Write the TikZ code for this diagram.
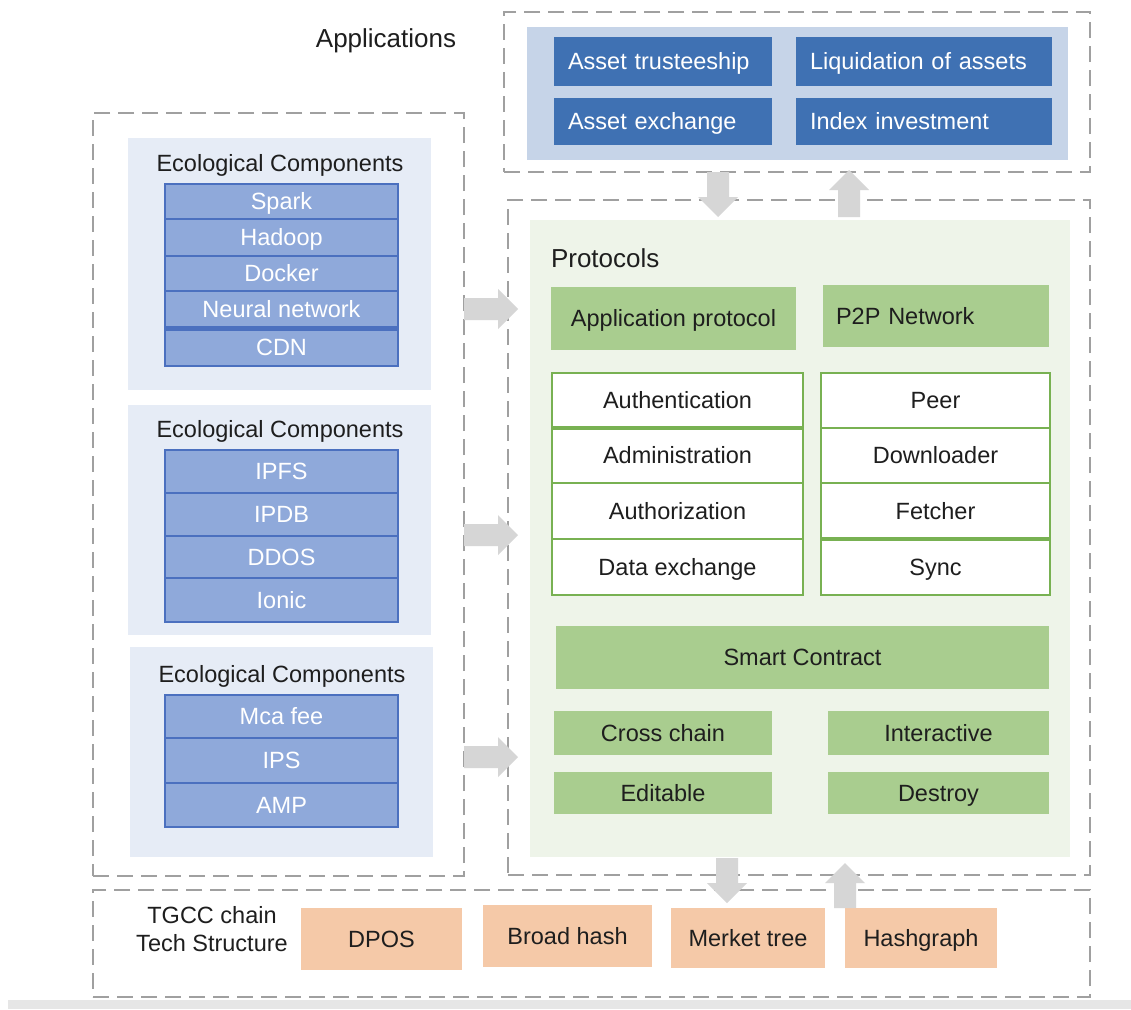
\documentclass[tikz,border=0pt]{standalone}
\usepackage{fontspec}
\setmainfont{Liberation Sans}
\usetikzlibrary{calc}

\definecolor{dashgray}{HTML}{A0A0A0}
\definecolor{appbg}{HTML}{C6D4E8}
\definecolor{appblue}{HTML}{3F71B3}
\definecolor{ecobg}{HTML}{E6ECF6}
\definecolor{stackfill}{HTML}{8FA9DA}
\definecolor{stackline}{HTML}{4B70BF}
\definecolor{protobg}{HTML}{EEF4E9}
\definecolor{greenbox}{HTML}{A9CD8F}
\definecolor{tableline}{HTML}{78B152}
\definecolor{peach}{HTML}{F5C9A8}
\definecolor{arrowgray}{HTML}{D6D6D6}
\definecolor{stripgray}{HTML}{E6E6E6}
\definecolor{ink}{HTML}{1E1E1E}

\newcommand\bodyfont{\fontsize{23.5}{28}\selectfont}
\newcommand\headfont{\fontsize{26}{30}\selectfont}

% rectangle node given by its corners: style, name, x1, y1, x2, y2, text
\newcommand\cellbox[7]{%
  \pgfmathsetmacro\cellw{#5-#3}%
  \pgfmathsetmacro\cellh{#6-#4}%
  \node[#1, anchor=north west, minimum width=\cellw pt, minimum height=\cellh pt] (#2) at (#3,#4) {#7};}

% broad grey block arrow between two named points
\newcommand\fatarrow[2]{%
  \fill[arrowgray] let \p1=(#1), \p2=(#2),
    \n1={veclen(\x2-\x1,\y2-\y1)}, \n2={atan2(\y2-\y1,\x2-\x1)} in
    [shift={(\p1)}, rotate=\n2]
    (0pt,11pt) -- ({\n1*1pt-20pt},11pt) -- ({\n1*1pt-20pt},20pt) -- ({\n1*1pt},0pt)
    -- ({\n1*1pt-20pt},-20pt) -- ({\n1*1pt-20pt},-11pt) -- (0pt,-11pt) -- cycle;}

\begin{document}
\begin{tikzpicture}[x=1pt,y=-1pt,
  every node/.style={inner sep=0pt, outer sep=0pt},
  dashframe/.style={draw=dashgray, line width=2pt, dash pattern=on 16pt off 8pt},
  plain/.style={fill=#1, draw=none},
  txt/.style={font=\bodyfont, text=ink, text height=16.5pt, text depth=0pt},
  appitem/.style={fill=appblue, font=\bodyfont, text=white, text height=16.5pt, text depth=0pt, align=left},
  stackrow/.style={fill=stackfill, draw=stackline, line width=2pt, font=\bodyfont, text=white, text height=16.5pt, text depth=0pt},
  tablerow/.style={fill=white, draw=tableline, line width=2pt, txt},
  greenitem/.style={fill=greenbox, txt},
  chainitem/.style={fill=peach, txt},
  title/.style={font=\bodyfont, text=ink, anchor=base},
  heading/.style={font=\headfont, text=ink, anchor=base}]

\useasboundingbox (0,0) rectangle (1131,1009);
\fill[white] (0,0) rectangle (1131,1009);
\fill[stripgray] (8,1000) rectangle (1131,1009);

% dashed frames
\cellbox{dashframe}{appframe}{504}{12}{1090}{172}{}
\cellbox{dashframe}{ecoframe}{93}{113}{464}{876}{}
\cellbox{dashframe}{protoframe}{508}{200}{1090}{875}{}
\cellbox{dashframe}{chainframe}{93}{890}{1090}{997}{}

% applications
\node[heading] (apptitle) at (386,47) {Applications};
\cellbox{plain=appbg}{apppanel}{527}{27}{1068}{160}{}
\cellbox{appitem, text width=190pt}{trustee}{554}{37}{772}{86}{Asset trusteeship}
\cellbox{appitem, text width=228pt}{liquid}{796}{37}{1052}{86}{Liquidation of assets}
\cellbox{appitem, text width=190pt}{aexch}{554}{98}{772}{145}{Asset exchange}
\cellbox{appitem, text width=228pt}{index}{796}{98}{1052}{145}{Index investment}

% ecological components, first group
\cellbox{plain=ecobg}{ecoA}{128}{138}{431}{390}{}
\node[title] (ecoAt) at (280,171) {Ecological Components};
\cellbox{stackrow}{spark}{165}{184}{398}{219}{Spark}
\cellbox{stackrow}{hadoop}{165}{219}{398}{256}{Hadoop}
\cellbox{stackrow}{docker}{165}{256}{398}{291}{Docker}
\cellbox{stackrow}{neural}{165}{291}{398}{328}{Neural network}
\cellbox{stackrow}{cdn}{165}{328}{398}{366}{CDN}
\draw[stackline, line width=5pt] (neural.south west) -- (neural.south east);

% second group
\cellbox{plain=ecobg}{ecoB}{128}{405}{431}{635}{}
\node[title] (ecoBt) at (280,437) {Ecological Components};
\cellbox{stackrow}{ipfs}{165}{450}{398}{493}{IPFS}
\cellbox{stackrow}{ipdb}{165}{493}{398}{536}{IPDB}
\cellbox{stackrow}{ddos}{165}{536}{398}{578}{DDOS}
\cellbox{stackrow}{ionic}{165}{578}{398}{622}{Ionic}

% third group
\cellbox{plain=ecobg}{ecoC}{130}{647}{433}{857}{}
\node[title] (ecoCt) at (282,682) {Ecological Components};
\cellbox{stackrow}{mca}{165}{695}{398}{738}{Mca fee}
\cellbox{stackrow}{ips}{165}{738}{398}{783}{IPS}
\cellbox{stackrow}{amp}{165}{783}{398}{827}{AMP}

% protocols
\cellbox{plain=protobg}{protopanel}{530}{220}{1070}{857}{}
\node[heading, anchor=base west] (prototitle) at (551,267) {Protocols};
\cellbox{greenitem}{approto}{551}{287}{796}{350}{Application protocol}
\cellbox{greenitem, text width=200pt, align=left}{p2p}{823}{285}{1049}{347}{P2P Network}

\cellbox{tablerow}{authn}{552}{373}{803}{428}{Authentication}
\cellbox{tablerow}{admin}{552}{428}{803}{483}{Administration}
\cellbox{tablerow}{authz}{552}{483}{803}{539}{Authorization}
\cellbox{tablerow}{dexch}{552}{539}{803}{595}{Data exchange}
\draw[tableline, line width=4.5pt] (authn.south west) -- (authn.south east);

\cellbox{tablerow}{peer}{821}{373}{1050}{428}{Peer}
\cellbox{tablerow}{downl}{821}{428}{1050}{483}{Downloader}
\cellbox{tablerow}{fetch}{821}{483}{1050}{539}{Fetcher}
\cellbox{tablerow}{sync}{821}{539}{1050}{595}{Sync}
\draw[tableline, line width=4.5pt] (fetch.south west) -- (fetch.south east);

\cellbox{greenitem}{smart}{556}{626}{1049}{689}{Smart Contract}
\cellbox{greenitem}{cross}{554}{711}{772}{755}{Cross chain}
\cellbox{greenitem}{inter}{828}{711}{1049}{755}{Interactive}
\cellbox{greenitem}{edit}{554}{772}{772}{814}{Editable}
\cellbox{greenitem}{destroy}{828}{772}{1049}{814}{Destroy}

% chain technology
\node[font=\bodyfont, text=ink, align=center] (chainlabel) at (212,929) {TGCC chain\\Tech Structure};
\cellbox{chainitem}{dpos}{301}{908}{462}{970}{DPOS}
\cellbox{chainitem}{bhash}{483}{905}{652}{967}{Broad hash}
\cellbox{chainitem}{merkle}{671}{908}{825}{968}{Merket tree}
\cellbox{chainitem}{hgraph}{845}{908}{997}{968}{Hashgraph}

% flow arrows
\coordinate (appdownS) at (718,172);
\coordinate (appdownE) at (718,217);
\coordinate (appupS) at (849,217);
\coordinate (appupE) at (849,170);
\coordinate (ecoAS) at (ecoframe.east |- 0,309);
\coordinate (ecoAE) at (518,309);
\coordinate (ecoBS) at (ecoframe.east |- 0,535);
\coordinate (ecoBE) at (518,535);
\coordinate (ecoCS) at (ecoframe.east |- 0,757);
\coordinate (ecoCE) at (518,757);
\coordinate (chaindownS) at (727,858);
\coordinate (chaindownE) at (727,903);
\coordinate (chainupS) at (845,908);
\coordinate (chainupE) at (845,863);

\fatarrow{appdownS}{appdownE}
\fatarrow{appupS}{appupE}
\fatarrow{ecoAS}{ecoAE}
\fatarrow{ecoBS}{ecoBE}
\fatarrow{ecoCS}{ecoCE}
\fatarrow{chaindownS}{chaindownE}
\fatarrow{chainupS}{chainupE}
\end{tikzpicture}
\end{document}
